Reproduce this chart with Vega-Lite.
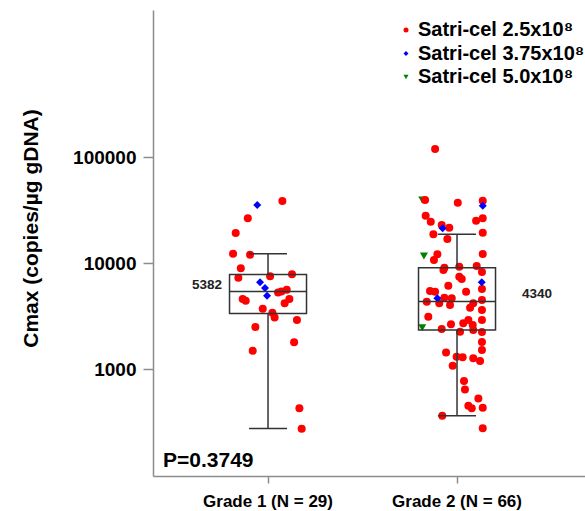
{
  "$schema": "https://vega.github.io/schema/vega-lite/v6.json",
  "width": 432,
  "height": 466,
  "autosize": {"type": "none"},
  "padding": {"left": 153, "top": 10, "right": 0, "bottom": 35},
  "background": "white",
  "config": {
    "font": "Liberation Sans",
    "view": {"stroke": null},
    "legend": {"orient": "none", "legendX": 243, "legendY": 10, "labelFontSize": 20, "labelFontWeight": "bold", "labelColor": "black", "labelLimit": 0, "symbolSize": 25, "labelOffset": 2, "rowPadding": 3.5, "padding": 0}
  },
  "datasets": {
    "points": [
      {"grade": "Grade 2 (N = 66)", "dose": "Satri-cel 5.0x10⁸", "jitter": -0.184, "value": 39300},
      {"grade": "Grade 2 (N = 66)", "dose": "Satri-cel 5.0x10⁸", "jitter": -0.175, "value": 11640},
      {"grade": "Grade 2 (N = 66)", "dose": "Satri-cel 5.0x10⁸", "jitter": -0.184, "value": 2453},

      {"grade": "Grade 1 (N = 29)", "dose": "Satri-cel 2.5x10⁸", "jitter": 0.076, "value": 38460},
      {"grade": "Grade 1 (N = 29)", "dose": "Satri-cel 2.5x10⁸", "jitter": -0.107, "value": 26410},
      {"grade": "Grade 1 (N = 29)", "dose": "Satri-cel 2.5x10⁸", "jitter": -0.171, "value": 19190},
      {"grade": "Grade 1 (N = 29)", "dose": "Satri-cel 2.5x10⁸", "jitter": -0.185, "value": 12240},
      {"grade": "Grade 1 (N = 29)", "dose": "Satri-cel 2.5x10⁸", "jitter": -0.095, "value": 11980},
      {"grade": "Grade 1 (N = 29)", "dose": "Satri-cel 2.5x10⁸", "jitter": -0.144, "value": 8913},
      {"grade": "Grade 1 (N = 29)", "dose": "Satri-cel 2.5x10⁸", "jitter": -0.157, "value": 7265},
      {"grade": "Grade 1 (N = 29)", "dose": "Satri-cel 2.5x10⁸", "jitter": 0.011, "value": 7490},
      {"grade": "Grade 1 (N = 29)", "dose": "Satri-cel 2.5x10⁸", "jitter": 0.127, "value": 7825},
      {"grade": "Grade 1 (N = 29)", "dose": "Satri-cel 2.5x10⁸", "jitter": -0.134, "value": 4575},
      {"grade": "Grade 1 (N = 29)", "dose": "Satri-cel 2.5x10⁸", "jitter": -0.118, "value": 4410},
      {"grade": "Grade 1 (N = 29)", "dose": "Satri-cel 2.5x10⁸", "jitter": 0.053, "value": 5290},
      {"grade": "Grade 1 (N = 29)", "dose": "Satri-cel 2.5x10⁸", "jitter": 0.099, "value": 5600},
      {"grade": "Grade 1 (N = 29)", "dose": "Satri-cel 2.5x10⁸", "jitter": 0.113, "value": 4575},
      {"grade": "Grade 1 (N = 29)", "dose": "Satri-cel 2.5x10⁸", "jitter": 0.088, "value": 4167},
      {"grade": "Grade 1 (N = 29)", "dose": "Satri-cel 2.5x10⁸", "jitter": -0.028, "value": 3706},
      {"grade": "Grade 1 (N = 29)", "dose": "Satri-cel 2.5x10⁸", "jitter": 0.023, "value": 3397},
      {"grade": "Grade 1 (N = 29)", "dose": "Satri-cel 2.5x10⁸", "jitter": 0.035, "value": 3073},
      {"grade": "Grade 1 (N = 29)", "dose": "Satri-cel 2.5x10⁸", "jitter": 0.153, "value": 2900},
      {"grade": "Grade 1 (N = 29)", "dose": "Satri-cel 2.5x10⁸", "jitter": -0.067, "value": 2490},
      {"grade": "Grade 1 (N = 29)", "dose": "Satri-cel 2.5x10⁸", "jitter": 0.138, "value": 1786},
      {"grade": "Grade 1 (N = 29)", "dose": "Satri-cel 2.5x10⁸", "jitter": -0.081, "value": 1488},
      {"grade": "Grade 1 (N = 29)", "dose": "Satri-cel 2.5x10⁸", "jitter": 0.166, "value": 426},
      {"grade": "Grade 1 (N = 29)", "dose": "Satri-cel 2.5x10⁸", "jitter": 0.178, "value": 273},
      {"grade": "Grade 1 (N = 29)", "dose": "Satri-cel 2.5x10⁸", "jitter": 0.071, "value": 5383},

      {"grade": "Grade 2 (N = 66)", "dose": "Satri-cel 2.5x10⁸", "jitter": -0.116, "value": 119000},
      {"grade": "Grade 2 (N = 66)", "dose": "Satri-cel 2.5x10⁸", "jitter": -0.169, "value": 39300},
      {"grade": "Grade 2 (N = 66)", "dose": "Satri-cel 2.5x10⁸", "jitter": 0.004, "value": 37070},
      {"grade": "Grade 2 (N = 66)", "dose": "Satri-cel 2.5x10⁸", "jitter": 0.136, "value": 38700},
      {"grade": "Grade 2 (N = 66)", "dose": "Satri-cel 2.5x10⁸", "jitter": -0.166, "value": 27940},
      {"grade": "Grade 2 (N = 66)", "dose": "Satri-cel 2.5x10⁸", "jitter": -0.139, "value": 24520},
      {"grade": "Grade 2 (N = 66)", "dose": "Satri-cel 2.5x10⁸", "jitter": -0.081, "value": 22830},
      {"grade": "Grade 2 (N = 66)", "dose": "Satri-cel 2.5x10⁸", "jitter": -0.041, "value": 21530},
      {"grade": "Grade 2 (N = 66)", "dose": "Satri-cel 2.5x10⁸", "jitter": -0.125, "value": 18660},
      {"grade": "Grade 2 (N = 66)", "dose": "Satri-cel 2.5x10⁸", "jitter": -0.051, "value": 16840},
      {"grade": "Grade 2 (N = 66)", "dose": "Satri-cel 2.5x10⁸", "jitter": 0.101, "value": 25060},
      {"grade": "Grade 2 (N = 66)", "dose": "Satri-cel 2.5x10⁸", "jitter": 0.136, "value": 26410},
      {"grade": "Grade 2 (N = 66)", "dose": "Satri-cel 2.5x10⁸", "jitter": 0.136, "value": 19310},
      {"grade": "Grade 2 (N = 66)", "dose": "Satri-cel 2.5x10⁸", "jitter": -0.104, "value": 12080},
      {"grade": "Grade 2 (N = 66)", "dose": "Satri-cel 2.5x10⁸", "jitter": -0.122, "value": 10670},
      {"grade": "Grade 2 (N = 66)", "dose": "Satri-cel 2.5x10⁸", "jitter": 0.136, "value": 12160},
      {"grade": "Grade 2 (N = 66)", "dose": "Satri-cel 2.5x10⁸", "jitter": -0.067, "value": 9030},
      {"grade": "Grade 2 (N = 66)", "dose": "Satri-cel 2.5x10⁸", "jitter": 0.012, "value": 9230},
      {"grade": "Grade 2 (N = 66)", "dose": "Satri-cel 2.5x10⁸", "jitter": 0.104, "value": 9370},
      {"grade": "Grade 2 (N = 66)", "dose": "Satri-cel 2.5x10⁸", "jitter": -0.072, "value": 8590},
      {"grade": "Grade 2 (N = 66)", "dose": "Satri-cel 2.5x10⁸", "jitter": 0.012, "value": 7427},
      {"grade": "Grade 2 (N = 66)", "dose": "Satri-cel 2.5x10⁸", "jitter": 0.025, "value": 7066},
      {"grade": "Grade 2 (N = 66)", "dose": "Satri-cel 2.5x10⁸", "jitter": -0.143, "value": 5443},
      {"grade": "Grade 2 (N = 66)", "dose": "Satri-cel 2.5x10⁸", "jitter": -0.116, "value": 5360},
      {"grade": "Grade 2 (N = 66)", "dose": "Satri-cel 2.5x10⁸", "jitter": -0.046, "value": 6107},
      {"grade": "Grade 2 (N = 66)", "dose": "Satri-cel 2.5x10⁸", "jitter": 0.048, "value": 5360},
      {"grade": "Grade 2 (N = 66)", "dose": "Satri-cel 2.5x10⁸", "jitter": -0.16, "value": 4314},
      {"grade": "Grade 2 (N = 66)", "dose": "Satri-cel 2.5x10⁸", "jitter": -0.094, "value": 4167},
      {"grade": "Grade 2 (N = 66)", "dose": "Satri-cel 2.5x10⁸", "jitter": -0.067, "value": 4706},
      {"grade": "Grade 2 (N = 66)", "dose": "Satri-cel 2.5x10⁸", "jitter": -0.028, "value": 4645},
      {"grade": "Grade 2 (N = 66)", "dose": "Satri-cel 2.5x10⁸", "jitter": -0.037, "value": 4016},
      {"grade": "Grade 2 (N = 66)", "dose": "Satri-cel 2.5x10⁸", "jitter": 0.069, "value": 3786},
      {"grade": "Grade 2 (N = 66)", "dose": "Satri-cel 2.5x10⁸", "jitter": 0.086, "value": 4167},
      {"grade": "Grade 2 (N = 66)", "dose": "Satri-cel 2.5x10⁸", "jitter": -0.152, "value": 3114},
      {"grade": "Grade 2 (N = 66)", "dose": "Satri-cel 2.5x10⁸", "jitter": -0.032, "value": 2641},
      {"grade": "Grade 2 (N = 66)", "dose": "Satri-cel 2.5x10⁸", "jitter": 0.033, "value": 2699},
      {"grade": "Grade 2 (N = 66)", "dose": "Satri-cel 2.5x10⁸", "jitter": 0.06, "value": 2900},
      {"grade": "Grade 2 (N = 66)", "dose": "Satri-cel 2.5x10⁸", "jitter": 0.083, "value": 2601},
      {"grade": "Grade 2 (N = 66)", "dose": "Satri-cel 2.5x10⁸", "jitter": -0.081, "value": 2385},
      {"grade": "Grade 2 (N = 66)", "dose": "Satri-cel 2.5x10⁸", "jitter": 0.016, "value": 2248},
      {"grade": "Grade 2 (N = 66)", "dose": "Satri-cel 2.5x10⁸", "jitter": 0.086, "value": 2333},
      {"grade": "Grade 2 (N = 66)", "dose": "Satri-cel 2.5x10⁸", "jitter": -0.058, "value": 1437},
      {"grade": "Grade 2 (N = 66)", "dose": "Satri-cel 2.5x10⁸", "jitter": -0.002, "value": 1306},
      {"grade": "Grade 2 (N = 66)", "dose": "Satri-cel 2.5x10⁸", "jitter": 0.03, "value": 1290},
      {"grade": "Grade 2 (N = 66)", "dose": "Satri-cel 2.5x10⁸", "jitter": -0.023, "value": 1074},
      {"grade": "Grade 2 (N = 66)", "dose": "Satri-cel 2.5x10⁸", "jitter": 0.086, "value": 1262},
      {"grade": "Grade 2 (N = 66)", "dose": "Satri-cel 2.5x10⁸", "jitter": 0.122, "value": 1190},
      {"grade": "Grade 2 (N = 66)", "dose": "Satri-cel 2.5x10⁸", "jitter": 0.037, "value": 770},
      {"grade": "Grade 2 (N = 66)", "dose": "Satri-cel 2.5x10⁸", "jitter": 0.042, "value": 643},
      {"grade": "Grade 2 (N = 66)", "dose": "Satri-cel 2.5x10⁸", "jitter": 0.113, "value": 529},
      {"grade": "Grade 2 (N = 66)", "dose": "Satri-cel 2.5x10⁸", "jitter": 0.06, "value": 451},
      {"grade": "Grade 2 (N = 66)", "dose": "Satri-cel 2.5x10⁸", "jitter": 0.078, "value": 426},
      {"grade": "Grade 2 (N = 66)", "dose": "Satri-cel 2.5x10⁸", "jitter": 0.136, "value": 431},
      {"grade": "Grade 2 (N = 66)", "dose": "Satri-cel 2.5x10⁸", "jitter": -0.078, "value": 363},
      {"grade": "Grade 2 (N = 66)", "dose": "Satri-cel 2.5x10⁸", "jitter": 0.136, "value": 276},
      {"grade": "Grade 2 (N = 66)", "dose": "Satri-cel 2.5x10⁸", "jitter": 0.132, "value": 8224},
      {"grade": "Grade 2 (N = 66)", "dose": "Satri-cel 2.5x10⁸", "jitter": 0.132, "value": 5684},
      {"grade": "Grade 2 (N = 66)", "dose": "Satri-cel 2.5x10⁸", "jitter": 0.132, "value": 4477},
      {"grade": "Grade 2 (N = 66)", "dose": "Satri-cel 2.5x10⁸", "jitter": 0.132, "value": 3602},
      {"grade": "Grade 2 (N = 66)", "dose": "Satri-cel 2.5x10⁸", "jitter": 0.132, "value": 2900},
      {"grade": "Grade 2 (N = 66)", "dose": "Satri-cel 2.5x10⁸", "jitter": 0.132, "value": 2234},
      {"grade": "Grade 2 (N = 66)", "dose": "Satri-cel 2.5x10⁸", "jitter": 0.132, "value": 1797},
      {"grade": "Grade 2 (N = 66)", "dose": "Satri-cel 2.5x10⁸", "jitter": 0.132, "value": 1511},

      {"grade": "Grade 1 (N = 29)", "dose": "Satri-cel 3.75x10⁸", "jitter": -0.057, "value": 35260},
      {"grade": "Grade 1 (N = 29)", "dose": "Satri-cel 3.75x10⁸", "jitter": -0.042, "value": 6576},
      {"grade": "Grade 1 (N = 29)", "dose": "Satri-cel 3.75x10⁸", "jitter": -0.016, "value": 5810},
      {"grade": "Grade 1 (N = 29)", "dose": "Satri-cel 3.75x10⁸", "jitter": -0.005, "value": 4915},
      {"grade": "Grade 2 (N = 66)", "dose": "Satri-cel 3.75x10⁸", "jitter": 0.136, "value": 34720},
      {"grade": "Grade 2 (N = 66)", "dose": "Satri-cel 3.75x10⁸", "jitter": -0.076, "value": 21260},
      {"grade": "Grade 2 (N = 66)", "dose": "Satri-cel 3.75x10⁸", "jitter": 0.131, "value": 6576},
      {"grade": "Grade 2 (N = 66)", "dose": "Satri-cel 3.75x10⁸", "jitter": -0.104, "value": 4645}
    ],
    "boxes": [
      {"grade": "Grade 1 (N = 29)", "lo": 275, "q1": 3350, "med": 5382, "q3": 7820, "hi": 12240},
      {"grade": "Grade 2 (N = 66)", "lo": 363, "q1": 2333, "med": 4340, "q3": 9035, "hi": 18660}
    ]
  },
  "layer": [
    {
      "data": {"name": "points"},
      "mark": {"type": "point", "filled": true, "opacity": 1, "size": 64},
      "encoding": {
        "x": {
          "field": "grade", "type": "nominal", "title": null,
          "scale": {"domain": ["Grade 1 (N = 29)", "Grade 2 (N = 66)"], "paddingInner": 0, "paddingOuter": 0.142857, "align": 0.38},
          "axis": {"title": null, "labelAngle": 0, "labelFontSize": 17, "labelFontWeight": "bold", "labelColor": "black", "tickSize": 7, "tickColor": "#8c8c8c", "tickWidth": 1.5, "domainColor": "#8c8c8c", "domainWidth": 1.5, "labelPadding": 10}
        },
        "xOffset": {"field": "jitter", "type": "quantitative", "scale": {"domain": [-0.5, 0.5]}},
        "y": {
          "field": "value", "type": "quantitative", "title": "Cmax (copies/µg gDNA)",
          "scale": {"type": "log", "domain": [98, 2440000], "nice": false},
          "axis": {"values": [1000, 10000, 100000], "format": "d", "grid": false, "labelFontSize": 19, "labelFontWeight": "bold", "labelColor": "black", "labelPadding": 7, "tickSize": 10, "tickColor": "#8c8c8c", "tickWidth": 1.5, "domainColor": "#8c8c8c", "domainWidth": 1.5,
                   "title": "Cmax (copies/µg gDNA)", "titleFontSize": 21, "titleFontWeight": "bold", "titleColor": "black", "titleAngle": -90, "titleX": -122, "titleY": 218, "titleAlign": "center", "titleBaseline": "middle"}
        },
        "color": {
          "field": "dose", "type": "nominal", "title": null,
          "scale": {"domain": ["Satri-cel 2.5x10⁸", "Satri-cel 3.75x10⁸", "Satri-cel 5.0x10⁸"], "range": ["#ff0000", "#0000ff", "#008000"]}
        },
        "shape": {
          "field": "dose", "type": "nominal", "title": null,
          "scale": {"domain": ["Satri-cel 2.5x10⁸", "Satri-cel 3.75x10⁸", "Satri-cel 5.0x10⁸"], "range": ["circle", "diamond", "triangle-down"]}
        }
      }
    },
    {
      "data": {"name": "boxes"},
      "mark": {"type": "rule", "color": "#333333", "strokeWidth": 1.5},
      "encoding": {
        "x": {"field": "grade", "type": "nominal", "title": null},
        "y": {"field": "lo", "type": "quantitative", "title": "Cmax (copies/µg gDNA)"},
        "y2": {"field": "q1"}
      }
    },
    {
      "data": {"name": "boxes"},
      "mark": {"type": "rule", "color": "#333333", "strokeWidth": 1.5},
      "encoding": {
        "x": {"field": "grade", "type": "nominal", "title": null},
        "y": {"field": "q3", "type": "quantitative", "title": "Cmax (copies/µg gDNA)"},
        "y2": {"field": "hi"}
      }
    },
    {
      "data": {"name": "boxes"},
      "mark": {"type": "bar", "width": 77, "fillOpacity": 0, "stroke": "#333333", "strokeWidth": 1.5},
      "encoding": {
        "x": {"field": "grade", "type": "nominal", "title": null},
        "y": {"field": "q1", "type": "quantitative", "title": "Cmax (copies/µg gDNA)"},
        "y2": {"field": "q3"}
      }
    },
    {
      "data": {"name": "boxes"},
      "mark": {"type": "tick", "size": 77, "thickness": 1.5, "color": "#333333", "opacity": 1},
      "encoding": {
        "x": {"field": "grade", "type": "nominal", "title": null},
        "y": {"field": "med", "type": "quantitative", "title": "Cmax (copies/µg gDNA)"}
      }
    },
    {
      "data": {"name": "boxes"},
      "mark": {"type": "tick", "size": 38, "thickness": 1.5, "color": "#333333", "opacity": 1},
      "encoding": {
        "x": {"field": "grade", "type": "nominal", "title": null},
        "y": {"field": "lo", "type": "quantitative", "title": "Cmax (copies/µg gDNA)"}
      }
    },
    {
      "data": {"name": "boxes"},
      "mark": {"type": "tick", "size": 38, "thickness": 1.5, "color": "#333333", "opacity": 1},
      "encoding": {
        "x": {"field": "grade", "type": "nominal", "title": null},
        "y": {"field": "hi", "type": "quantitative", "title": "Cmax (copies/µg gDNA)"}
      }
    },
    {
      "data": {"name": "boxes"},
      "transform": [{"filter": "datum.grade == 'Grade 1 (N = 29)'"}],
      "mark": {"type": "text", "align": "right", "baseline": "middle", "dx": -46, "dy": -7, "fontSize": 13.5, "fontWeight": "bold", "color": "#222222"},
      "encoding": {
        "x": {"field": "grade", "type": "nominal", "title": null},
        "y": {"field": "med", "type": "quantitative", "title": "Cmax (copies/µg gDNA)"},
        "text": {"field": "med", "type": "quantitative", "format": "d"}
      }
    },
    {
      "data": {"name": "boxes"},
      "transform": [{"filter": "datum.grade == 'Grade 2 (N = 66)'"}],
      "mark": {"type": "text", "align": "left", "baseline": "middle", "dx": 65, "dy": -7, "fontSize": 13.5, "fontWeight": "bold", "color": "#222222"},
      "encoding": {
        "x": {"field": "grade", "type": "nominal", "title": null},
        "y": {"field": "med", "type": "quantitative", "title": "Cmax (copies/µg gDNA)"},
        "text": {"field": "med", "type": "quantitative", "format": "d"}
      }
    },
    {
      "data": {"values": [{"label": "P=0.3749"}]},
      "mark": {"type": "text", "align": "left", "baseline": "alphabetic", "dx": -105, "fontSize": 21, "fontWeight": "bold", "color": "black"},
      "encoding": {
        "x": {"datum": "Grade 1 (N = 29)", "type": "nominal", "title": null},
        "y": {"datum": 120, "type": "quantitative", "title": "Cmax (copies/µg gDNA)"},
        "text": {"field": "label", "type": "nominal"}
      }
    }
  ]
}
